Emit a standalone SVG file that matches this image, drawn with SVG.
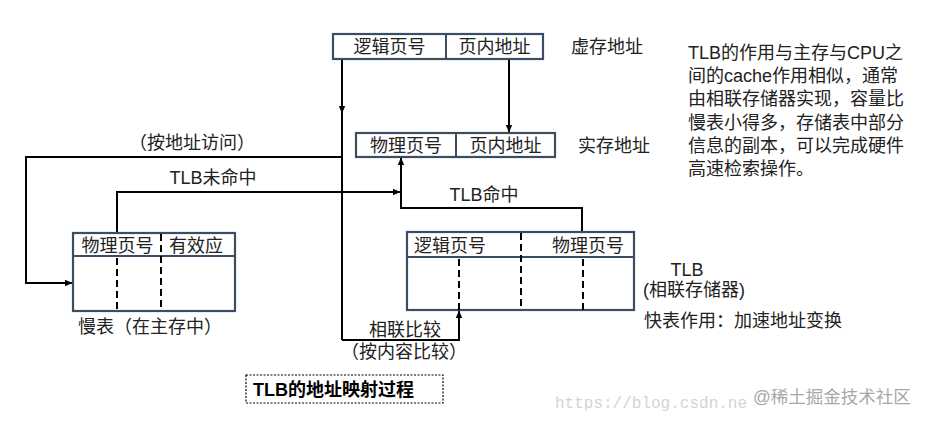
<svg xmlns="http://www.w3.org/2000/svg" width="927" height="421" viewBox="0 0 927 421">
<style>
.t{font-family:"Liberation Sans","Noto Sans CJK SC",sans-serif;font-size:18px;fill:#222}
.c{text-anchor:middle}
.box{fill:#fff;stroke:#3a4d62;stroke-width:2.2}
.ln{fill:none;stroke:#000;stroke-width:2}
.dash{stroke:#000;stroke-width:2;stroke-dasharray:7,4}
.sep{stroke:#3a4d62;stroke-width:2}
</style>
<defs>
<marker id="ah" markerWidth="8" markerHeight="8" refX="7" refY="4" orient="auto" markerUnits="userSpaceOnUse">
<path d="M0,0.8 L7.5,4 L0,7.2 Z" fill="#000"/>
</marker>
</defs>
<rect width="927" height="421" fill="#fff"/>

<g id="connectors">
<line class="ln" x1="342" y1="59" x2="342" y2="340"/>
<line class="ln" x1="342" y1="70" x2="342" y2="113" marker-end="url(#ah)"/>
<polyline class="ln" points="342,340 459,340 459,311" marker-end="url(#ah)"/>
<line class="ln" x1="509" y1="59" x2="509" y2="132" marker-end="url(#ah)"/>
<polyline class="ln" points="342,157 26,157 26,283 72,283" marker-end="url(#ah)"/>
<polyline class="ln" points="117,233 117,192 400,192" marker-end="url(#ah)"/>
<polyline class="ln" points="582,232 582,208 401,208 401,158" marker-end="url(#ah)"/>
</g>

<g id="virtual-address">
<rect class="box" x="333" y="34" width="210" height="25"/>
<line class="sep" x1="446" y1="34" x2="446" y2="59"/>
<text class="t c" x="389.5" y="52.5">逻辑页号</text>
<text class="t c" x="494.5" y="52.5">页内地址</text>
<text class="t" x="571" y="52.5">虚存地址</text>
</g>

<g id="physical-address">
<rect class="box" x="356" y="133" width="199" height="24"/>
<line class="sep" x1="456" y1="133" x2="456" y2="157"/>
<text class="t c" x="406" y="151.5">物理页号</text>
<text class="t c" x="505.5" y="151.5">页内地址</text>
<text class="t" x="578" y="151.5">实存地址</text>
</g>

<g id="slow-table">
<rect class="box" x="73" y="233" width="162" height="78"/>
<line class="sep" x1="73" y1="256" x2="235" y2="256"/>
<line class="dash" x1="117" y1="258" x2="117" y2="311"/>
<line class="dash" x1="161" y1="234" x2="161" y2="311"/>
<text class="t c" x="117.5" y="252">物理页号</text>
<text class="t c" x="196" y="252">有效应</text>
<text class="t" x="78" y="333">慢表（在主存中）</text>
</g>

<g id="tlb">
<rect class="box" x="407" y="232" width="227" height="78"/>
<line class="sep" x1="407" y1="257" x2="634" y2="257"/>
<line class="dash" x1="459" y1="259" x2="459" y2="310"/>
<line class="dash" x1="521" y1="233" x2="521" y2="310"/>
<line class="dash" x1="583" y1="259" x2="583" y2="310"/>
<text class="t c" x="450" y="252">逻辑页号</text>
<text class="t c" x="588" y="252">物理页号</text>
<text class="t c" x="687" y="276">TLB</text>
<text class="t c" x="694" y="296">(相联存储器)</text>
<text class="t" x="644" y="327">快表作用：加速地址变换</text>
</g>

<g id="labels">
<text class="t c" x="192" y="149">（按地址访问）</text>
<text class="t c" x="213" y="184">TLB未命中</text>
<text class="t c" x="484" y="201">TLB命中</text>
<text class="t c" x="405" y="336">相联比较</text>
<text class="t c" x="404" y="358">（按内容比较）</text>
</g>

<g id="note" class="t">
<text x="688" y="59">TLB的作用与主存与CPU之</text>
<text x="688" y="82.2">间的cache作用相似，通常</text>
<text x="688" y="105.4">由相联存储器实现，容量比</text>
<text x="688" y="128.6">慢表小得多，存储表中部分</text>
<text x="688" y="151.8">信息的副本，可以完成硬件</text>
<text x="688" y="175">高速检索操作。</text>
</g>

<g id="caption">
<rect x="246" y="375" width="197" height="28" fill="none" stroke="#000" stroke-width="1.2" stroke-dasharray="2,1.5"/>
<text x="253" y="396" style="font-family:'Liberation Sans','Noto Sans CJK SC',sans-serif;font-size:18px;font-weight:bold;fill:#000">TLB的地址映射过程</text>
</g>

<g id="watermark">
<text x="555" y="408" style="font-family:'Liberation Mono',monospace;font-size:16px;fill:#d4d4d4">https://blog.csdn.ne</text>
<text x="753" y="403" style="font-family:'Liberation Sans','Noto Sans CJK SC',sans-serif;font-size:17.5px;fill:#a8a8a8">@稀土掘金技术社区</text>
</g>
</svg>
